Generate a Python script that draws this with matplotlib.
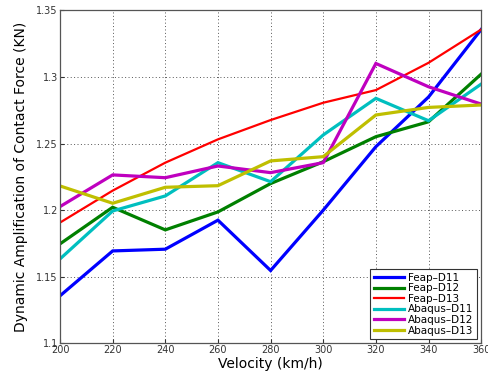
import matplotlib
matplotlib.use("Agg")
import matplotlib.pyplot as plt

velocity = [200, 220, 240, 260, 280, 300, 320, 340, 360]

feap_d11 = [1.1357, 1.1694, 1.1707, 1.1925, 1.1547, 1.2000, 1.2477, 1.2850, 1.3357]
feap_d12 = [1.1747, 1.2022, 1.1852, 1.1987, 1.2200, 1.2364, 1.2552, 1.2664, 1.3022]
feap_d13 = [1.1907, 1.2147, 1.2357, 1.2532, 1.2677, 1.2807, 1.2902, 1.3107, 1.3357]
abaqus_d11 = [1.1634, 1.1994, 1.2107, 1.2357, 1.2214, 1.2565, 1.2840, 1.2672, 1.2947]
abaqus_d12 = [1.2027, 1.2265, 1.2244, 1.2332, 1.2282, 1.2357, 1.3102, 1.2927, 1.2797]
abaqus_d13 = [1.2182, 1.2052, 1.2172, 1.2184, 1.2370, 1.2402, 1.2715, 1.2772, 1.2790]

labels = ["Feap\u2013D11", "Feap\u2013D12", "Feap\u2013D13",
          "Abaqus\u2013D11", "Abaqus\u2013D12", "Abaqus\u2013D13"]
colors = ["#0000ff", "#008000", "#ff0000", "#00bfbf", "#bf00bf", "#bfbf00"]
widths = [2.3, 2.3, 1.6, 2.3, 2.3, 2.3]

xticks = [200, 220, 240, 260, 280, 300, 320, 340, 360]
yticks = [1.1, 1.15, 1.2, 1.25, 1.3, 1.35]
yticklabels = ["1.1", "1.15", "1.2", "1.25", "1.3", "1.35"]

fig = plt.figure(figsize=(4.88, 3.74), dpi=100)
ax = fig.add_axes([0.123, 0.082, 0.863, 0.890])

series = [feap_d11, feap_d12, feap_d13, abaqus_d11, abaqus_d12, abaqus_d13]
for vals, lab, c, w in zip(series, labels, colors, widths):
    ax.plot(velocity, vals, color=c, lw=w, label=lab, solid_joinstyle="miter")

ax.set_xlim(200, 360)
ax.set_ylim(1.1, 1.35)
ax.set_xticks(xticks)
ax.set_yticks(yticks)
ax.set_yticklabels(yticklabels)
ax.tick_params(direction="in", length=3, labelsize=7, colors="#333333", pad=1.5)
ax.grid(True, linestyle=(0, (1, 2.5)), color="#555555", linewidth=0.7)
for s in ax.spines.values():
    s.set_color("#555555")
    s.set_linewidth(0.9)

ax.set_xlabel("Velocity (km/h)", fontsize=10, labelpad=1)
ax.set_ylabel("Dynamic Amplification of Contact Force (KN)", fontsize=10, labelpad=6)

leg = ax.legend(loc="lower right", fontsize=7.5, handlelength=2.9, handletextpad=0.4,
                labelspacing=0.05, borderpad=0.35, fancybox=False, framealpha=1,
                edgecolor="#333333", borderaxespad=0.4)
leg.get_frame().set_linewidth(0.8)

fig.savefig("out.png", dpi=100)
